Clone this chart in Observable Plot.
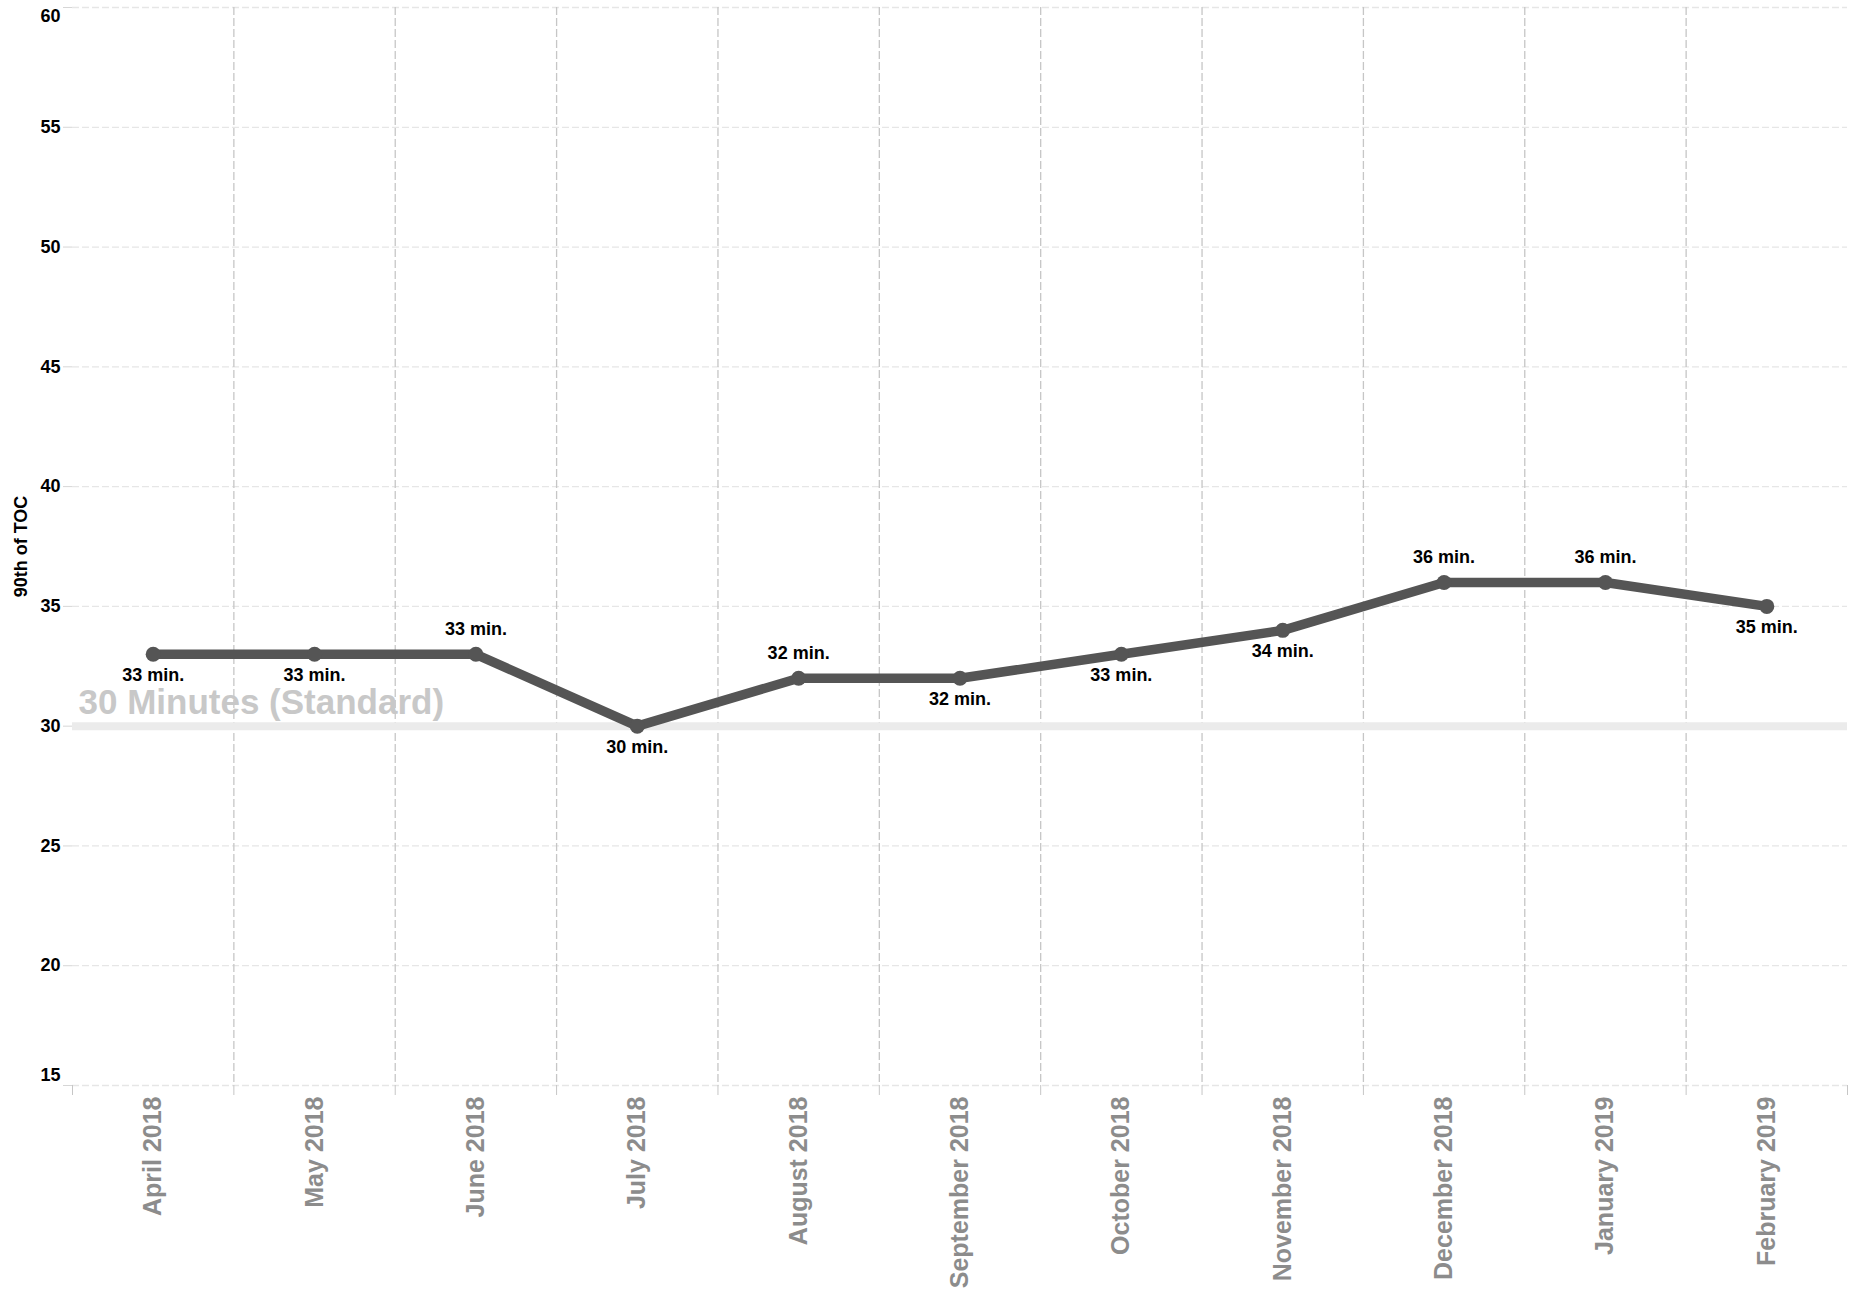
<!DOCTYPE html>
<html>
<head>
<meta charset="utf-8">
<script src="https://cdn.jsdelivr.net/npm/d3@7"></script>
<script src="https://cdn.jsdelivr.net/npm/@observablehq/plot@0.6"></script>
<style>
  html, body { margin: 0; padding: 0; background: #fff; }
  #chart svg { display: block; }
</style>
</head>
<body>
<div id="chart"></div>
<script>
// ---- data ----
const months = ["April 2018", "May 2018", "June 2018", "July 2018", "August 2018",
  "September 2018", "October 2018", "November 2018", "December 2018", "January 2019", "February 2019"];
const toc = [33, 33, 33, 30, 32, 32, 33, 34, 36, 36, 35];
const yTicks = [15, 20, 25, 30, 35, 40, 45, 50, 55, 60];
const standardValue = 30;
const standardLabel = "30 Minutes (Standard)";
const yTitle = "90th of TOC";
const labelSuffix = " min.";

// ---- label placement (style) ----
const aboveMonths = new Set(["June 2018", "August 2018", "December 2018", "January 2019"]);

const data = months.map((m, i) => ({i, month: m, value: toc[i], label: `${toc[i]}${labelSuffix}`}));
const innerBounds = months.slice(1).map((_, i) => i + 0.5);
const allBounds = [-0.5, ...innerBounds, months.length - 0.5];
const yMin = d3.min(yTicks), yMax = d3.max(yTicks);
const inner = yTicks.filter(t => t !== yMin && t !== yMax);

const font = "'Liberation Sans', Arial, sans-serif";

const chart = Plot.plot({
  width: 1853,
  height: 1294,
  marginLeft: 72,
  marginRight: 6,
  marginTop: 7,
  marginBottom: 209,
  style: {fontFamily: font, background: "#fff"},
  x: {domain: [-0.5, months.length - 0.5], axis: null},
  y: {domain: [yMin, yMax], axis: null},
  marks: [
    // horizontal dashed gridlines
    Plot.ruleY(yTicks, {stroke: "#e6e6e6", strokeDasharray: "7,3", strokeWidth: 1.3}),
    // vertical dashed separators between months
    Plot.ruleX(innerBounds, {stroke: "#c6c6c6", strokeDasharray: "8,3", strokeWidth: 1.3}),
    // tick marks below x axis at band boundaries
    Plot.axisX(allBounds, {tickSize: 10, stroke: "#c6c6c6", fill: "none", label: null}),
    // tick marks left of y axis
    Plot.axisY(yTicks, {tickSize: 9, stroke: "#d6d6d6", fill: "none", label: null}),
    // y tick labels
    Plot.axisY(inner, {tickSize: 0, tickPadding: 12, stroke: "none", fill: "#000",
      fontSize: 18, fontWeight: "bold", label: null}),
    Plot.axisY([yMax], {tickSize: 0, tickPadding: 12, stroke: "none", fill: "#000",
      fontSize: 18, fontWeight: "bold", label: null, dy: 9}),
    Plot.axisY([yMin], {tickSize: 0, tickPadding: 12, stroke: "none", fill: "#000",
      fontSize: 18, fontWeight: "bold", label: null, dy: -10}),
    // x tick labels (months)
    Plot.axisX(months.map((_, i) => i), {tickSize: 0, tickPadding: 11, stroke: "none",
      tickFormat: i => months[i], rotate: -90, textAnchor: "end", lineAnchor: "middle",
      fontSize: 25, fontWeight: "bold", fill: "#8c8c8c", label: null}),
    // y title
    Plot.text([yTitle], {text: d => d, frameAnchor: "left", rotate: -90, dx: -51,
      textAnchor: "middle", lineAnchor: "middle",
      fontSize: 18, fontWeight: "bold", fill: "#000"}),
    // 30-minute standard reference band
    Plot.ruleY([standardValue], {stroke: "#ebebeb", strokeWidth: 8}),
    Plot.text([standardValue], {y: d => d, text: () => standardLabel, frameAnchor: "left",
      textAnchor: "start", lineAnchor: "bottom", dx: 6, dy: -12,
      fontSize: 35, fontWeight: "bold", fill: "#c8c8c8"}),
    // data line and points
    Plot.line(data, {x: "i", y: "value", stroke: "#555555", strokeWidth: 9.5}),
    Plot.dot(data, {x: "i", y: "value", r: 7.5, fill: "#555555", stroke: "none"}),
    // value labels
    Plot.text(data.filter(d => aboveMonths.has(d.month)), {x: "i", y: "value", text: "label",
      dy: -25, fontSize: 18, fontWeight: "bold", fill: "#000"}),
    Plot.text(data.filter(d => !aboveMonths.has(d.month)), {x: "i", y: "value", text: "label",
      dy: 21, fontSize: 18, fontWeight: "bold", fill: "#000"})
  ]
});

document.getElementById("chart").appendChild(chart);
</script>
</body>
</html>
